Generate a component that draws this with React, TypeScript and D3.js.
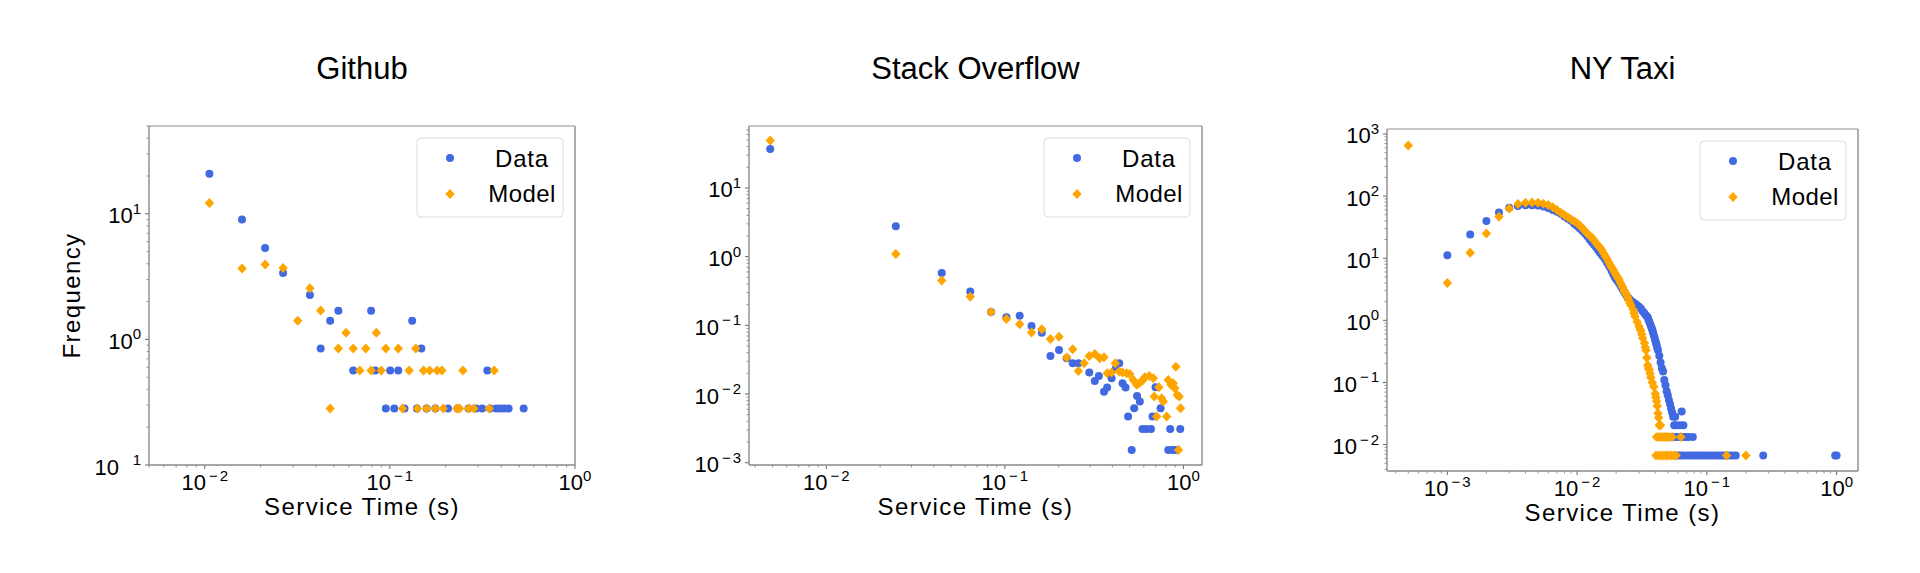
import React from "react";
import * as d3 from "d3";

type Pt = [number, number];

// ---- Github ----
const githubData: Pt[] = [
  [0.0106, 20.8], [0.0159, 9.0], [0.0212, 5.33], [0.0265, 3.37], [0.037, 2.26],
  [0.0423, 0.845], [0.0476, 1.41], [0.0527, 1.69], [0.0634, 0.565], [0.0792, 1.69],
  [0.0834, 0.565], [0.0951, 0.282], [0.1004, 0.565], [0.1057, 0.282], [0.111, 0.565],
  [0.12, 0.282], [0.132, 1.41], [0.14, 0.282], [0.148, 0.845], [0.158, 0.282],
  [0.176, 0.282], [0.206, 0.282], [0.232, 0.282], [0.266, 0.282], [0.292, 0.282],
  [0.315, 0.282], [0.336, 0.565], [0.348, 0.282], [0.376, 0.282], [0.395, 0.282],
  [0.416, 0.282], [0.438, 0.282], [0.528, 0.282],
];
const githubModel: Pt[] = [
  [0.0106, 12.2], [0.0159, 3.66], [0.0212, 3.95], [0.0265, 3.7], [0.0318, 1.41],
  [0.037, 2.55], [0.0423, 1.7], [0.0476, 0.282], [0.0527, 0.845], [0.058, 1.13],
  [0.0634, 0.845], [0.0688, 0.565], [0.0741, 0.845], [0.0792, 0.565], [0.0845, 1.13],
  [0.0899, 0.565], [0.0951, 0.845], [0.111, 0.845], [0.117, 0.282], [0.127, 0.565],
  [0.138, 0.845], [0.141, 0.282], [0.152, 0.565], [0.158, 0.282], [0.164, 0.565],
  [0.176, 0.282], [0.18, 0.565], [0.191, 0.565], [0.194, 0.282], [0.23, 0.282],
  [0.238, 0.282], [0.248, 0.565], [0.266, 0.282], [0.284, 0.282], [0.344, 0.282],
  [0.366, 0.565],
];
const githubXTicks = [-2, -1, 0];
const githubYTicks = [-1, 0, 1];

// ---- Stack Overflow ----
const soData: Pt[] = [
  [0.00485, 37], [0.0245, 2.76], [0.0443, 0.58], [0.064, 0.31], [0.0837, 0.156],
  [0.102, 0.131], [0.121, 0.138], [0.141, 0.098], [0.161, 0.078], [0.18, 0.0359],
  [0.201, 0.0438], [0.222, 0.0332], [0.24, 0.028], [0.258, 0.028], [0.297, 0.0205],
  [0.319, 0.0155], [0.336, 0.0183], [0.359, 0.0108], [0.374, 0.0124], [0.396, 0.017],
  [0.419, 0.0237], [0.437, 0.028], [0.456, 0.0144], [0.474, 0.0124], [0.49, 0.0047],
  [0.513, 0.00153], [0.53, 0.0062], [0.55, 0.0094], [0.57, 0.0078], [0.59, 0.0031],
  [0.62, 0.0031], [0.658, 0.0031], [0.671, 0.0047], [0.698, 0.0126], [0.745, 0.0062],
  [0.822, 0.00153], [0.843, 0.0031], [0.87, 0.00153], [0.904, 0.00153], [0.96, 0.0031],
];
const soModel: Pt[] = [
  [0.00485, 49], [0.0245, 1.09], [0.0443, 0.45], [0.064, 0.26], [0.0837, 0.156],
  [0.102, 0.124], [0.121, 0.104], [0.141, 0.079], [0.161, 0.0877], [0.18, 0.0634],
  [0.201, 0.0685], [0.222, 0.0339], [0.24, 0.0449], [0.258, 0.0217], [0.278, 0.028],
  [0.297, 0.0359], [0.319, 0.0384], [0.34, 0.0332], [0.359, 0.0343], [0.374, 0.02],
  [0.396, 0.0205], [0.415, 0.028], [0.437, 0.0212], [0.456, 0.0205], [0.481, 0.02],
  [0.5, 0.0196], [0.524, 0.016], [0.547, 0.0136], [0.565, 0.0143], [0.59, 0.0157],
  [0.608, 0.0175], [0.643, 0.0183], [0.678, 0.017], [0.686, 0.0092], [0.708, 0.0047],
  [0.729, 0.0126], [0.755, 0.0087], [0.771, 0.0078], [0.805, 0.0047], [0.822, 0.016],
  [0.851, 0.0136], [0.877, 0.0143], [0.895, 0.0121], [0.907, 0.025], [0.923, 0.0097],
  [0.947, 0.0092], [0.964, 0.0062], [0.94, 0.00153],
];
const soXTicks = [-2, -1, 0];
const soYTicks = [-3, -2, -1, 0, 1];

// ---- NY Taxi ----
const taxiData: Pt[] = [
  [0.001, 11.2], [0.0015, 24.2], [0.002, 39.6], [0.0025, 54.6], [0.003, 65], [0.0035, 69],
  [0.004, 71], [0.0045, 71.5], [0.005, 70.5], [0.0055, 68], [0.006, 64.5], [0.0065, 60],
  [0.007, 56], [0.0075, 52], [0.008, 47], [0.0085, 43], [0.009, 40], [0.0095, 36],
  [0.01, 33], [0.0105, 30], [0.011, 27.5], [0.0115, 25], [0.012, 22.5], [0.0125, 20],
  [0.013, 18], [0.0135, 16.5], [0.014, 15], [0.0145, 13.5], [0.015, 12.3], [0.0155, 11.3],
  [0.016, 10.5], [0.0165, 9.5], [0.017, 8.5], [0.0175, 7.7], [0.018, 7], [0.0185, 6.2],
  [0.019, 5.5], [0.0195, 5], [0.02, 4.6], [0.0205, 4.3], [0.021, 4.0], [0.0215, 3.7],
  [0.022, 3.4], [0.0225, 3.15], [0.023, 2.9], [0.0235, 2.7], [0.024, 2.5], [0.0245, 2.35],
  [0.025, 2.25], [0.0255, 2.15], [0.026, 2.05], [0.027, 1.95], [0.028, 1.85], [0.029, 1.75],
  [0.03, 1.65], [0.031, 1.55], [0.032, 1.4], [0.033, 1.3], [0.034, 1.2], [0.035, 1.12],
  [0.0355, 1.02], [0.036, 0.95], [0.0365, 0.88], [0.037, 0.82], [0.0375, 0.76], [0.038, 0.7],
  [0.0385, 0.64], [0.039, 0.58], [0.0395, 0.53], [0.04, 0.48], [0.0405, 0.44], [0.041, 0.4],
  [0.0415, 0.36], [0.042, 0.33], [0.043, 0.27], [0.044, 0.21], [0.045, 0.17], [0.046, 0.15],
  [0.047, 0.11], [0.048, 0.09], [0.049, 0.072], [0.05, 0.062], [0.051, 0.052], [0.052, 0.045],
  [0.053, 0.038], [0.054, 0.033], [0.055, 0.028], [0.056, 0.0205], [0.057, 0.028],
  [0.058, 0.0205], [0.062, 0.0205], [0.064, 0.034], [0.066, 0.0205],
  [0.054, 0.0133], [0.057, 0.0133], [0.06, 0.0133], [0.063, 0.0133], [0.066, 0.0133],
  [0.069, 0.0133], [0.072, 0.0133], [0.078, 0.0133],
  [0.058, 0.0067], [0.061, 0.0067], [0.064, 0.0067], [0.067, 0.0067], [0.071, 0.0067],
  [0.075, 0.0067], [0.079, 0.0067], [0.083, 0.0067], [0.087, 0.0067], [0.092, 0.0067],
  [0.097, 0.0067], [0.102, 0.0067], [0.108, 0.0067], [0.114, 0.0067], [0.12, 0.0067],
  [0.127, 0.0067], [0.134, 0.0067], [0.141, 0.0067], [0.149, 0.0067], [0.158, 0.0067],
  [0.167, 0.0067], [0.272, 0.0067], [0.975, 0.0067], [1.0, 0.0067],
];
const taxiModel: Pt[] = [
  [0.0005, 650], [0.001, 4.0], [0.0015, 12.2], [0.002, 25], [0.0025, 46.5], [0.003, 63],
  [0.0035, 74.5], [0.004, 78], [0.0045, 79], [0.005, 78], [0.0055, 75], [0.006, 72],
  [0.0065, 66], [0.007, 60], [0.0075, 54], [0.008, 49.5], [0.0085, 45.5], [0.009, 42],
  [0.0095, 39.5], [0.01, 37], [0.0105, 33.5], [0.011, 30.5], [0.0115, 27.5], [0.012, 25],
  [0.0125, 23], [0.013, 21.5], [0.0135, 19.5], [0.014, 17.5], [0.0145, 16], [0.015, 15],
  [0.0155, 13.5], [0.016, 12], [0.0165, 10.8], [0.017, 9.8], [0.0175, 8.7], [0.018, 7.8],
  [0.0185, 7.1], [0.019, 6.5], [0.0195, 5.9], [0.02, 5.35], [0.0205, 4.9], [0.021, 4.6],
  [0.0215, 4.1], [0.022, 3.7], [0.0225, 3.38], [0.023, 3.0], [0.0235, 2.8], [0.024, 2.6],
  [0.0245, 2.35], [0.025, 2.1], [0.0255, 1.9], [0.026, 1.75], [0.027, 1.5], [0.0275, 1.3],
  [0.028, 1.15], [0.029, 0.95], [0.03, 0.8], [0.0305, 0.72], [0.031, 0.68], [0.0315, 0.6],
  [0.032, 0.52], [0.033, 0.43], [0.0335, 0.37], [0.034, 0.33], [0.0345, 0.25], [0.035, 0.19],
  [0.0355, 0.17], [0.036, 0.16], [0.0365, 0.14], [0.037, 0.12], [0.038, 0.1], [0.039, 0.085],
  [0.04, 0.066], [0.0405, 0.058], [0.041, 0.05], [0.0415, 0.042], [0.042, 0.032],
  [0.0425, 0.027], [0.043, 0.0205], [0.044, 0.0205],
  [0.041, 0.0133], [0.043, 0.0133], [0.045, 0.0133], [0.047, 0.0133], [0.049, 0.0133],
  [0.051, 0.0133], [0.054, 0.0133], [0.063, 0.0133],
  [0.0405, 0.0067], [0.0425, 0.0067], [0.0445, 0.0067], [0.0465, 0.0067], [0.0485, 0.0067],
  [0.0505, 0.0067], [0.053, 0.0067], [0.0555, 0.0067], [0.058, 0.0067], [0.142, 0.0067],
  [0.2, 0.0067],
];
const taxiXTicks = [-3, -2, -1, 0];
const taxiYTicks = [-2, -1, 0, 1, 2, 3];

const BLUE = "#4169e1";
const ORANGE = "#ffa500";
const FONT = "'Liberation Sans', Arial, Helvetica, sans-serif";

type PanelCfg = {
  title: string;
  data: Pt[];
  model: Pt[];
  xTicks: number[];
  yTicks: number[];
  xDomain: [number, number];
  yDomain: [number, number];
  box: { left: number; right: number; top: number; bottom: number };
  ylabel?: string;
  hideMinus?: number; // y tick exponent whose minus glyph is missing
};

const panels: PanelCfg[] = [
  {
    title: "Github",
    data: githubData,
    model: githubModel,
    xTicks: githubXTicks,
    yTicks: githubYTicks,
    xDomain: [0.005, 1],
    yDomain: [0.1, 50],
    box: { left: 149, right: 575, top: 126, bottom: 465 },
    ylabel: "Frequency",
    hideMinus: -1,
  },
  {
    title: "Stack Overflow",
    data: soData,
    model: soModel,
    xTicks: soXTicks,
    yTicks: soYTicks,
    xDomain: [Math.pow(10, -2.433), Math.pow(10, 0.104)],
    yDomain: [Math.pow(10, -3.033), Math.pow(10, 1.902)],
    box: { left: 749, right: 1202, top: 126, bottom: 465 },
  },
  {
    title: "NY Taxi",
    data: taxiData,
    model: taxiModel,
    xTicks: taxiXTicks,
    yTicks: taxiYTicks,
    xDomain: [Math.pow(10, -3.465), Math.pow(10, 0.165)],
    yDomain: [Math.pow(10, -2.425), Math.pow(10, 3.08)],
    box: { left: 1387, right: 1858, top: 129, bottom: 471 },
  },
];

const diamond = "M0,-5L4.7,0L0,5L-4.7,0Z";

// 10^e as text, mathtext-like
const Pow = ({ e, hide }: { e: number; hide?: boolean }) => (
  <>
    <tspan>10</tspan>
    <tspan dy={-9.5} dx={3} fontSize={15}>
      {e < 0 ? <tspan fillOpacity={hide ? 0 : 1}>−</tspan> : null}
      <tspan dx={e < 0 ? 2 : 0}>{Math.abs(e)}</tspan>
    </tspan>
  </>
);

const Panel = ({ p }: { p: PanelCfg }) => {
  const { left, right, top, bottom } = p.box;
  const x = d3.scaleLog().domain(p.xDomain).range([left, right]);
  const y = d3.scaleLog().domain(p.yDomain).range([bottom, top]);
  const isMajor = (v: number) => Math.abs(Math.log10(v) - Math.round(Math.log10(v))) < 1e-6;
  const xMinor = x.ticks().filter((v) => !isMajor(v));
  const yMinor = y.ticks().filter((v) => !isMajor(v));
  const cx = (left + right) / 2;
  const lx = right - 12 - 146;
  const ly = top + 12;

  return (
    <g fontFamily={FONT}>
      <text x={cx} y={79} textAnchor="middle" fontSize={31} fill="#000">
        {p.title}
      </text>

      {/* minor ticks */}
      {xMinor.map((v, i) => (
        <line key={"xm" + i} x1={x(v)} x2={x(v)} y1={bottom} y2={bottom + 2.5} stroke="#777" strokeWidth={0.8} />
      ))}
      {yMinor.map((v, i) => (
        <line key={"ym" + i} x1={left - 2.5} x2={left} y1={y(v)} y2={y(v)} stroke="#777" strokeWidth={0.8} />
      ))}
      {/* major ticks + labels */}
      {p.xTicks.map((e) => (
        <g key={"xt" + e}>
          <line x1={x(10 ** e)} x2={x(10 ** e)} y1={bottom} y2={bottom + 4} stroke="#666" strokeWidth={1} />
          <text x={x(10 ** e)} y={bottom + 25} textAnchor="middle" fontSize={22} fill="#000">
            <Pow e={e} />
          </text>
        </g>
      ))}
      {p.yTicks.map((e) => (
        <g key={"yt" + e}>
          <line x1={left - 4} x2={left} y1={y(10 ** e)} y2={y(10 ** e)} stroke="#666" strokeWidth={1} />
          <text x={left - 8} y={y(10 ** e) + 9.5} textAnchor="end" fontSize={22} fill="#000">
            <Pow e={e} hide={p.hideMinus === e} />
          </text>
        </g>
      ))}

      {/* data */}
      {p.data.map((d, i) => (
        <circle key={"d" + i} cx={x(d[0])} cy={y(d[1])} r={4} fill={BLUE} />
      ))}
      {p.model.map((d, i) => (
        <path key={"m" + i} d={diamond} transform={`translate(${x(d[0])},${y(d[1])})`} fill={ORANGE} />
      ))}

      {/* spines */}
      <line x1={left} x2={right} y1={top} y2={top} stroke="#b3b3b3" strokeWidth={1.6} />
      <line x1={right} x2={right} y1={top} y2={bottom} stroke="#8a8a8a" strokeWidth={1.4} />
      <line x1={left} x2={right} y1={bottom} y2={bottom} stroke="#8a8a8a" strokeWidth={1.4} />
      <line x1={left} x2={left} y1={top} y2={bottom} stroke="#8a8a8a" strokeWidth={1.4} />

      {/* legend */}
      <rect x={lx} y={ly} width={146} height={79} rx={4} fill="#fff" fillOpacity={0.85} stroke="#dcdcdc" strokeWidth={1} />
      <circle cx={lx + 33} cy={ly + 20} r={4} fill={BLUE} />
      <path d={diamond} transform={`translate(${lx + 33},${ly + 56})`} fill={ORANGE} />
      <text x={lx + 105} y={ly + 29} textAnchor="middle" fontSize={24} letterSpacing={0.8} fill="#000">
        Data
      </text>
      <text x={lx + 105} y={ly + 64} textAnchor="middle" fontSize={24} letterSpacing={0.4} fill="#000">
        Model
      </text>

      {/* axis labels */}
      <text x={cx} y={bottom + 50} textAnchor="middle" fontSize={24} letterSpacing={1.4} fill="#000">
        Service Time (s)
      </text>
      {p.ylabel ? (
        <text
          transform={`translate(80,${(top + bottom) / 2}) rotate(-90)`}
          textAnchor="middle"
          fontSize={24}
          letterSpacing={1.4}
          fill="#000"
        >
          {p.ylabel}
        </text>
      ) : null}
    </g>
  );
};

export default function App() {
  return (
    <div style={{ position: "absolute", left: 0, top: 0, background: "#fff" }}>
      <svg width={1920} height={573} style={{ display: "block" }}>
        <rect width={1920} height={573} fill="#fff" />
        {panels.map((p) => (
          <Panel key={p.title} p={p} />
        ))}
      </svg>
    </div>
  );
}
